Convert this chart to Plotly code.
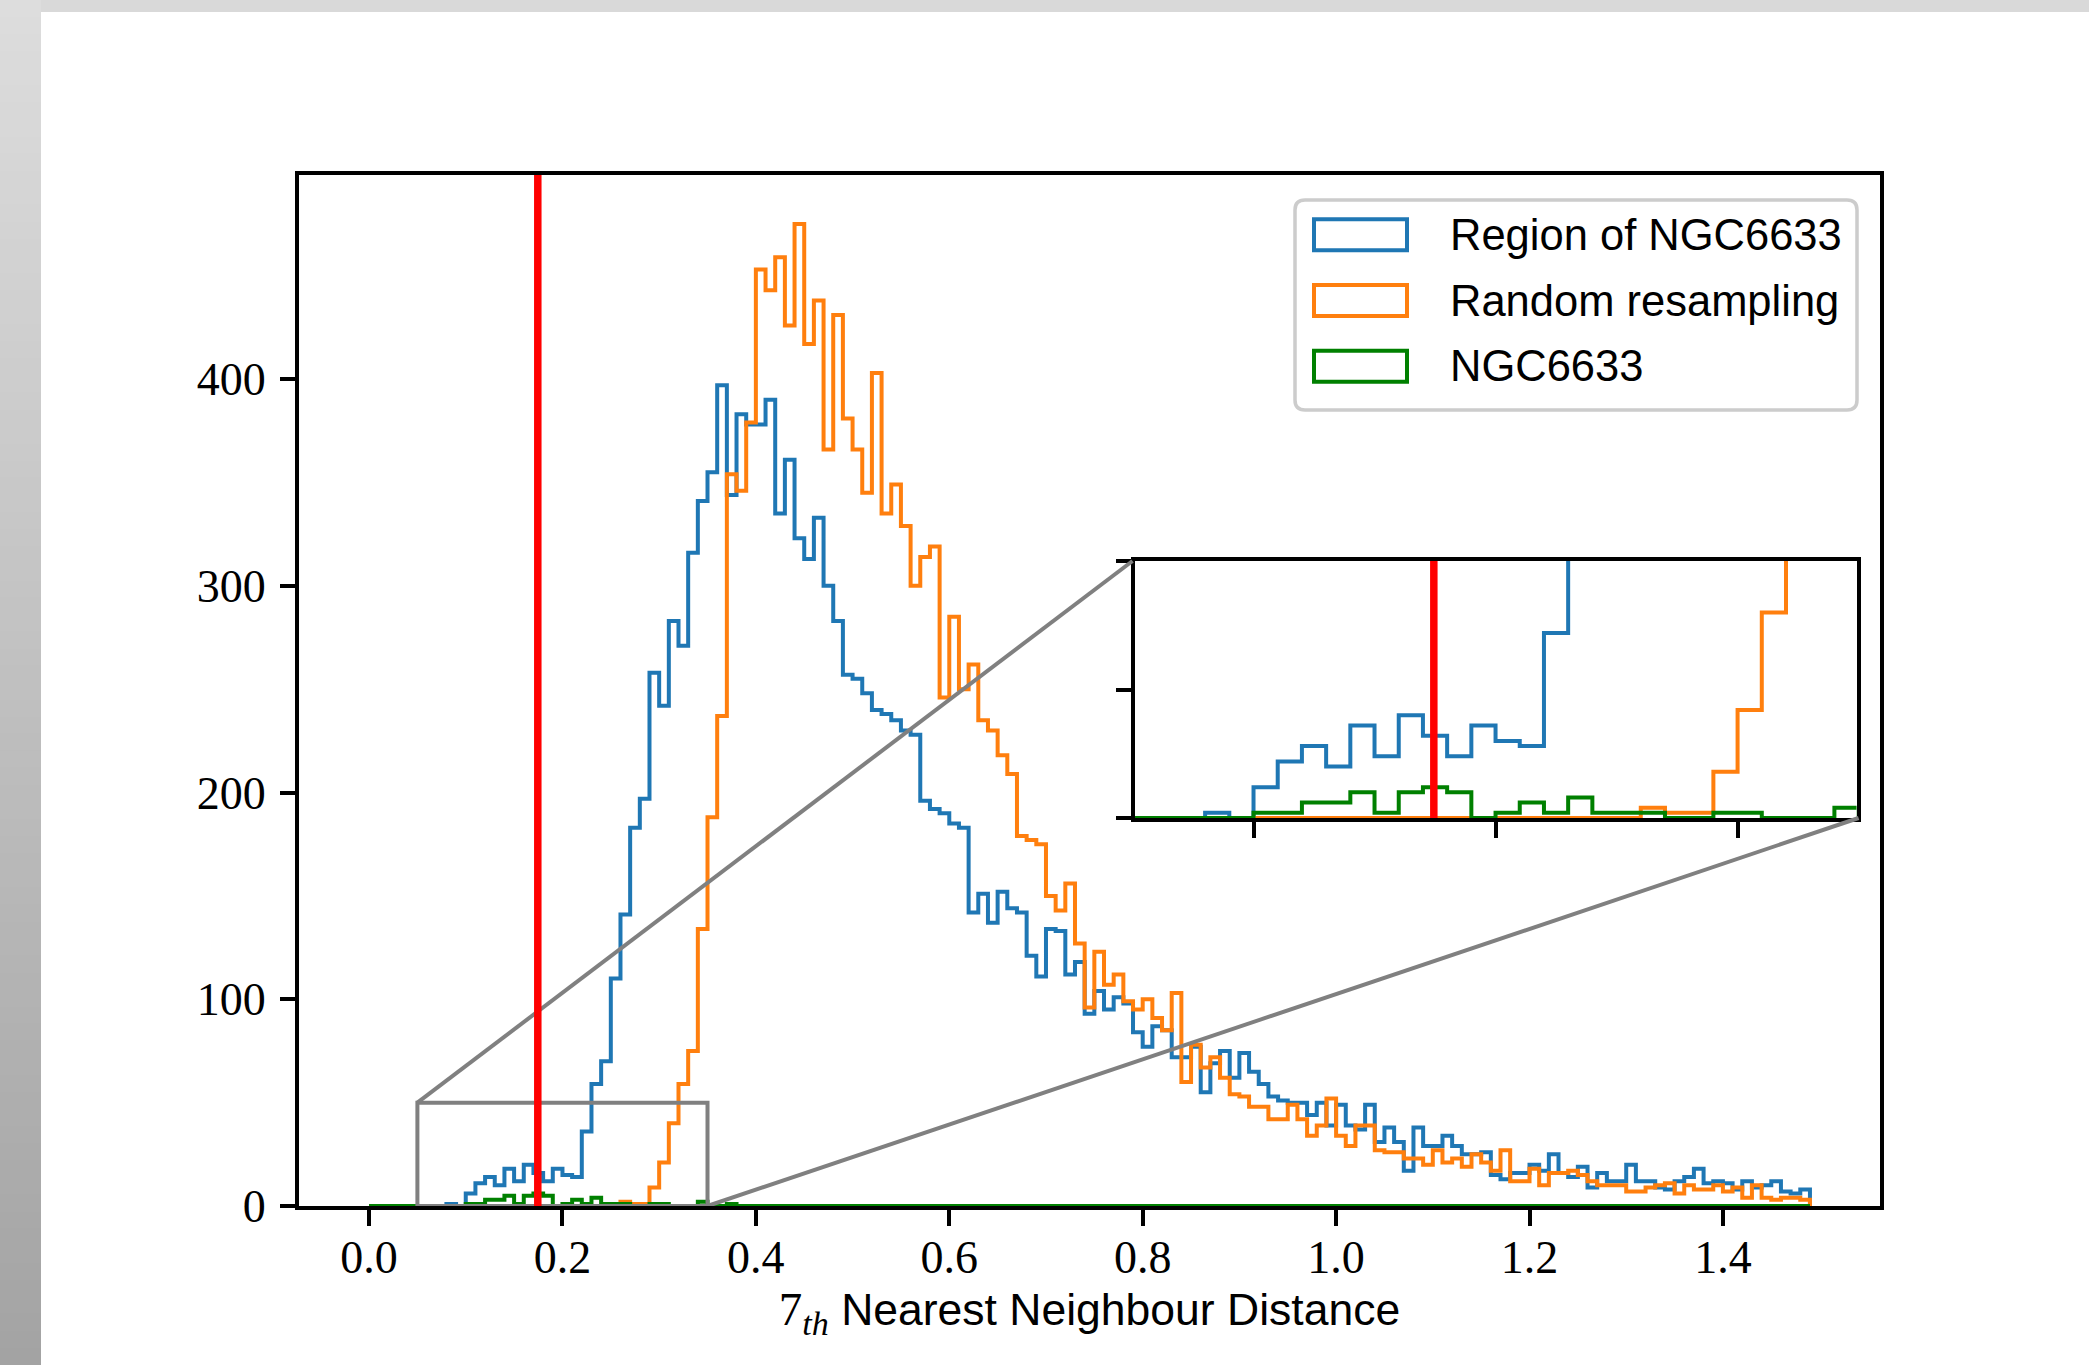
import numpy as np
import plotly.graph_objects as go

# ---------------------------------------------------------------------------
# Histogram data: counts per 0.01-wide bin of the 7th nearest neighbour distance
# ---------------------------------------------------------------------------
bin_width = 0.01
bin_edges = np.round(np.arange(0, 150) * bin_width, 2)   # 0.00 ... 1.49

region_counts = [
    0, 0, 0, 0, 0, 0, 0, 0, 1, 0,
    6, 11, 14, 10, 18, 12, 20, 16, 12, 18,
    15, 14, 36, 59, 70, 110, 141, 183, 197, 258,
    242, 283, 271, 316, 341, 355, 397, 344, 383, 378,
    378, 390, 335, 361, 323, 313, 333, 300, 283, 257,
    255, 248, 240, 238, 235, 230, 228, 196, 192, 190,
    185, 183, 142, 151, 137, 152, 144, 142, 121, 111,
    134, 133, 112, 118, 93, 104, 95, 101, 98, 84,
    77, 87, 85, 72, 72, 77, 55, 69, 75, 62,
    74, 65, 59, 53, 51, 50, 50, 44, 50, 39,
    49, 39, 37, 49, 31, 38, 31, 17, 38, 29,
    29, 34, 29, 25, 25, 26, 15, 13, 16, 16,
    20, 17, 25, 16, 14, 19, 9, 16, 12, 12,
    20, 12, 12, 9, 8, 12, 14, 18, 11, 12,
    11, 8, 12, 9, 10, 12, 7, 6, 8,
]

random_counts = [
    0, 0, 0, 0, 0, 0, 0, 0, 0, 0,
    0, 0, 0, 0, 0, 0, 0, 0, 0, 0,
    0, 0, 0, 0, 0, 0, 2, 1, 1, 9,
    21, 40, 59, 75, 134, 188, 237, 354, 346, 379,
    453, 443, 459, 426, 475, 417, 438, 366, 431, 381,
    366, 345, 403, 335, 349, 329, 300, 314, 319, 246,
    285, 250, 262, 235, 230, 218, 209, 179, 177, 175,
    150, 143, 156, 127, 96, 123, 107, 112, 99, 95,
    100, 91, 85, 103, 60, 78, 67, 72, 62, 54,
    53, 48, 48, 42, 42, 49, 42, 34, 39, 52,
    34, 29, 39, 39, 27, 26, 26, 23, 23, 20,
    27, 21, 23, 19, 25, 21, 17, 27, 12, 12,
    18, 10, 16, 16, 17, 15, 12, 10, 10, 10,
    7, 7, 9, 10, 11, 6, 10, 8, 8, 10,
    7, 9, 4, 10, 4, 3, 4, 4, 3,
]

cluster_counts = [
    0, 0, 0, 0, 0, 0, 0, 0, 0, 0,
    1, 1, 3, 3, 5, 1, 5, 6, 5, 0,
    1, 3, 1, 4, 1, 1, 1, 0, 0, 1,
    1, 0, 0, 0, 2, 0, 0, 1, 0, 0,
] + [0] * 109

series_names = ["Region of NGC6633", "Random resampling", "NGC6633"]
series_counts = [region_counts, random_counts, cluster_counts]
series_colors = ["#1f77b4", "#ff7f0e", "#008000"]

threshold = 0.1745          # vertical marker
zoom_x = (0.05, 0.35)       # region shown in the inset
zoom_y = (0, 50)

x_ticks = [0.0, 0.2, 0.4, 0.6, 0.8, 1.0, 1.2, 1.4]
y_ticks = [0, 100, 200, 300, 400]
inset_x_ticks = [0.1, 0.2, 0.3]
inset_y_ticks = [0, 25, 50]

# ---------------------------------------------------------------------------
# Page geometry (pixels); boxes are given at the centre of their frame lines
# ---------------------------------------------------------------------------
FIG_W, FIG_H = 2089, 1365
AX_L, AX_T, AX_R, AX_B = 297, 175, 1882, 1206          # main axes box
IN_L, IN_T, IN_R, IN_B = 1132.5, 561, 1858.6, 818      # inset axes box
FRAME_W = 4                                            # frame line width
HALF = FRAME_W / 2

# plotly draws axis lines just outside the plotting area: the horizontal
# extent uses the inside of the frame; the vertical extent keeps the frame
# centre so that ticks at the range ends (0, 50) stay drawn
PL_L, PL_R = AX_L + HALF, AX_R - HALF
PL_T, PL_B = AX_T, AX_B
PL_W, PL_H = PL_R - PL_L, PL_B - PL_T


def px_x(p):
    return (p - PL_L) / PL_W


def px_y(p):
    return (PL_B - p) / PL_H


def inner_range(lo, hi, length):
    """Data range seen by the inside of a frame whose centre spans [lo, hi]."""
    d = (hi - lo) * HALF / length
    return [lo + d, hi - d]


def step_xy(edges, counts):
    """Outline of a step histogram (matplotlib histtype='step')."""
    e = list(edges)
    xs, ys = [e[0]], [0]
    for i, c in enumerate(counts):
        xs += [e[i], e[i + 1]]
        ys += [c, c]
    xs.append(e[-1])
    ys.append(0)
    return xs, ys


edges = list(bin_edges) + [round(bin_edges[-1] + bin_width, 2)]
edges = edges[:len(region_counts) + 1]

span = edges[-1] - edges[0]
x_full = [edges[0] - 0.05 * span, edges[-1] + 0.05 * span]
y_full = [0, 1.05 * max(max(c) for c in series_counts)]

x_range = inner_range(*x_full, AX_R - AX_L)
y_range = list(y_full)
x2_range = inner_range(*zoom_x, IN_R - IN_L)
y2_range = list(zoom_y)

fig = go.Figure()
LW = 4

for name, counts, color in zip(series_names, series_counts, series_colors):
    xs, ys = step_xy(edges, counts)
    fig.add_trace(go.Scatter(x=xs, y=ys, mode="lines", name=name,
                             line=dict(color=color, width=LW),
                             xaxis="x", yaxis="y", showlegend=False,
                             hoverinfo="skip"))
    fig.add_trace(go.Scatter(x=xs, y=ys, mode="lines", name=name,
                             line=dict(color=color, width=LW),
                             xaxis="x2", yaxis="y2", showlegend=False,
                             hoverinfo="skip"))

in_dom_x = [px_x(IN_L + HALF), px_x(IN_R - HALF)]
in_dom_y = [px_y(IN_B), px_y(IN_T)]

axis_common = dict(showline=True, linecolor="black", linewidth=FRAME_W,
                   mirror=True, showgrid=False, zeroline=False,
                   ticks="outside", tickcolor="black", tickwidth=3.5)

title_html = ("<span style='font-family:Liberation Serif;font-size:47px'>7</span>"
              "<sub><span style='font-family:Liberation Serif;font-style:italic;"
              "font-size:34px'>th</span></sub> Nearest Neighbour Distance")

fig.update_layout(
    width=FIG_W, height=FIG_H,
    margin=dict(l=PL_L, r=FIG_W - PL_R, t=PL_T, b=FIG_H - PL_B, pad=0),
    paper_bgcolor="white", plot_bgcolor="white",
    showlegend=False,
    xaxis=dict(range=x_range, domain=[0, 1], anchor="y",
               tickvals=x_ticks, ticktext=[f"{v:.1f}" for v in x_ticks],
               ticklen=16, ticklabelstandoff=-8,
               tickfont=dict(family="Liberation Serif", size=46, color="black"),
               title=dict(text=title_html,
                          font=dict(family="Liberation Sans", size=44.5, color="black"),
                          standoff=13),
               **axis_common),
    yaxis=dict(range=y_range, domain=[0, 1], anchor="x",
               tickvals=y_ticks, ticktext=[str(v) for v in y_ticks],
               ticklen=15, ticklabelstandoff=5,
               tickfont=dict(family="Liberation Serif", size=46, color="black"),
               **axis_common),
    xaxis2=dict(range=x2_range, domain=in_dom_x, anchor="y2",
                tickvals=inset_x_ticks, showticklabels=False, ticklen=16,
                **axis_common),
    yaxis2=dict(range=y2_range, domain=in_dom_y, anchor="x2",
                tickvals=inset_y_ticks, showticklabels=False, ticklen=15,
                **axis_common),
)

# ---------------------------------------------------------------------------
# Inset indicator: rectangle on the main axes and two connector lines
# ---------------------------------------------------------------------------
GRAY = "#808080"


def main_x_at_px(p):
    return x_full[0] + (p - AX_L) / (AX_R - AX_L) * (x_full[1] - x_full[0])


def main_y_at_px(p):
    return y_full[0] + (AX_B - p) / (AX_B - AX_T) * (y_full[1] - y_full[0])


shapes = []
shapes.append(dict(type="rect", xref="x", yref="y",
                   x0=zoom_x[0], x1=zoom_x[1], y0=zoom_y[0], y1=zoom_y[1],
                   line=dict(color=GRAY, width=4), layer="above"))
shapes.append(dict(type="line", xref="x", yref="y",
                   x0=zoom_x[0], y0=zoom_y[1],
                   x1=main_x_at_px(IN_L), y1=main_y_at_px(IN_T),
                   line=dict(color=GRAY, width=4), layer="above"))
shapes.append(dict(type="line", xref="x", yref="y",
                   x0=zoom_x[1], y0=zoom_y[0],
                   x1=main_x_at_px(IN_R), y1=main_y_at_px(IN_B),
                   line=dict(color=GRAY, width=4), layer="above"))

# vertical marker in both axes
shapes.append(dict(type="line", xref="x", yref="y domain",
                   x0=threshold, x1=threshold, y0=0, y1=1,
                   line=dict(color="#ff0000", width=7.5), layer="above"))
shapes.append(dict(type="line", xref="x2", yref="y2 domain",
                   x0=threshold, x1=threshold, y0=0, y1=1,
                   line=dict(color="#ff0000", width=7.5), layer="above"))

# ---------------------------------------------------------------------------
# Page frame: light grey band on top, shaded grey band on the left
# ---------------------------------------------------------------------------
shapes.append(dict(type="rect", xref="paper", yref="paper",
                   x0=px_x(0), x1=px_x(FIG_W), y0=px_y(12), y1=px_y(0),
                   fillcolor="#d9d9d9", line=dict(width=0), layer="below"))
n_strips = 80
top_c, bot_c = np.array([221, 221, 221]), np.array([163, 163, 163])
for i in range(n_strips):
    y0p = FIG_H * i / n_strips
    y1p = FIG_H * (i + 1) / n_strips + 1
    c = top_c + (bot_c - top_c) * (i + 0.5) / n_strips
    col = "rgb({},{},{})".format(*[int(round(v)) for v in c])
    shapes.append(dict(type="rect", xref="paper", yref="paper",
                       x0=px_x(0), x1=px_x(41), y0=px_y(y1p), y1=px_y(y0p),
                       fillcolor=col, line=dict(width=0), layer="below"))

# ---------------------------------------------------------------------------
# Legend (outlined patches, as drawn for step histograms)
# ---------------------------------------------------------------------------
LG_L, LG_T, LG_R, LG_B, RAD = 1295, 200, 1857, 410, 10


def rounded_rect_path(l, t, r, b, rad):
    X = px_x
    Y = px_y
    return (f"M {X(l + rad)} {Y(t)} L {X(r - rad)} {Y(t)} Q {X(r)} {Y(t)} {X(r)} {Y(t + rad)} "
            f"L {X(r)} {Y(b - rad)} Q {X(r)} {Y(b)} {X(r - rad)} {Y(b)} "
            f"L {X(l + rad)} {Y(b)} Q {X(l)} {Y(b)} {X(l)} {Y(b - rad)} "
            f"L {X(l)} {Y(t + rad)} Q {X(l)} {Y(t)} {X(l + rad)} {Y(t)} Z")


shapes.append(dict(type="path", xref="paper", yref="paper",
                   path=rounded_rect_path(LG_L, LG_T, LG_R, LG_B, RAD),
                   fillcolor="white", line=dict(color="#cccccc", width=3.5),
                   layer="above"))

row_centers = [234.7, 300.5, 366.3]
annotations = []
for name, color, yc in zip(series_names, series_colors, row_centers):
    shapes.append(dict(type="rect", xref="paper", yref="paper",
                       x0=px_x(1314), x1=px_x(1407),
                       y0=px_y(yc + 15.5), y1=px_y(yc - 15.5),
                       line=dict(color=color, width=LW), fillcolor="rgba(0,0,0,0)",
                       layer="above"))
    annotations.append(dict(xref="paper", yref="paper", x=px_x(1448), y=px_y(yc),
                            xanchor="left", yanchor="middle", showarrow=False,
                            text=name,
                            font=dict(family="Liberation Sans", size=43.5,
                                      color="black")))

fig.update_layout(shapes=shapes, annotations=annotations)

fig.write_html("out.html")
